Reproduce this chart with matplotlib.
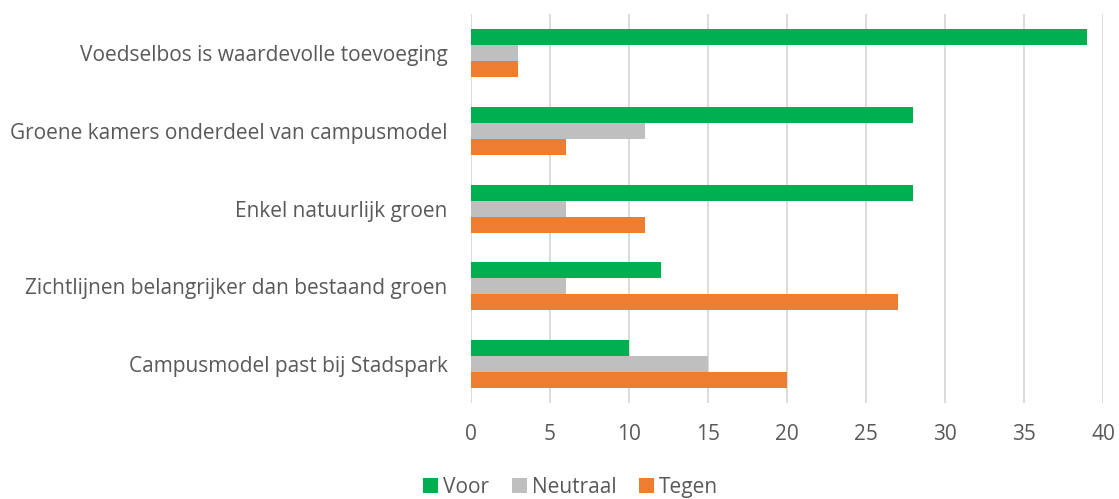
import matplotlib.pyplot as plt
import numpy as np

# Stellingen (van boven naar beneden) en aantal stemmen per antwoord
categories = [
    "Voedselbos is waardevolle toevoeging",
    "Groene kamers onderdeel van campusmodel",
    "Enkel natuurlijk groen",
    "Zichtlijnen belangrijker dan bestaand groen",
    "Campusmodel past bij Stadspark",
]
voor = [39, 28, 28, 12, 10]
neutraal = [3, 11, 6, 6, 15]
tegen = [3, 6, 11, 27, 20]

series_names = ["Voor", "Neutraal", "Tegen"]
colors = ["#00B050", "#BFBFBF", "#ED7D31"]
text_color = "#595959"

plt.rcParams['font.family'] = ['Open Sans', 'DejaVu Sans']

fig = plt.figure(figsize=(11.19, 4.99), dpi=100)
ax = fig.add_axes([0.421, 0.192, 0.5647, 0.780])

y = np.arange(len(categories))
h = 0.205
for i, (vals, name) in enumerate(zip([voor, neutraal, tegen], series_names)):
    ax.barh(y + (i - 1) * h, vals, height=h, color=colors[i], label=name, zorder=3)

ax.set_xlim(0, 40)
ax.set_ylim(len(categories) - 0.5, -0.5)
ax.set_xticks(np.arange(0, 41, 5))
ax.set_yticks(y)
ax.set_yticklabels(categories)
ax.grid(axis='x', color='#D9D9D9', linewidth=1.3, zorder=0)
for s in ax.spines.values():
    s.set_visible(False)
ax.tick_params(axis='both', length=0, labelsize=15, colors=text_color)
ax.tick_params(axis='x', pad=15)
ax.tick_params(axis='y', pad=17)

leg = fig.legend(loc='lower center', bbox_to_anchor=(0.51, -0.035), ncol=3, frameon=False,
                 fontsize=15, handlelength=0.7, handleheight=0.7, handletextpad=0.25,
                 columnspacing=1.1)
for t in leg.get_texts():
    t.set_color(text_color)

fig.savefig("out.png", dpi=100)
